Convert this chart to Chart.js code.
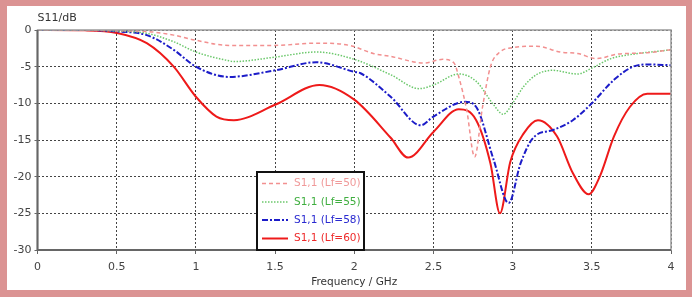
<!DOCTYPE html>
<html>
<head>
<meta charset="utf-8">
<script src="https://cdn.jsdelivr.net/npm/chart.js@4.4.1/dist/chart.umd.min.js"></script>
<style>
html,body{margin:0;padding:0;background:#fff;}
#wrap{position:relative;width:692px;height:297px;}
</style>
</head>
<body>
<div id="wrap"><canvas id="c" width="692" height="297"></canvas></div>
<script>
// Frequency (GHz) / S11 (dB)
const freqLf50 = [0,0.3,0.5,0.69,0.86,1.0,1.21,1.5,1.76,1.97,2.12,2.23,2.44,2.56,2.63,2.66,2.71,2.76,2.81,2.86,2.92,3.0,3.15,3.3,3.41,3.53,3.66,3.85,4.0];
const s11Lf50  = [0,0,-0.1,-0.2,-0.7,-1.4,-2.1,-2.1,-1.8,-2.1,-3.2,-3.6,-4.5,-4.0,-4.5,-6.4,-10.9,-17.3,-10.5,-5.0,-3.0,-2.4,-2.2,-3.0,-3.2,-3.9,-3.3,-3.1,-2.7];

const freqLf55 = [0,0.3,0.5,0.69,0.86,1.0,1.21,1.24,1.5,1.76,2.0,2.23,2.41,2.5,2.66,2.77,2.88,2.94,3.0,3.07,3.15,3.25,3.41,3.5,3.62,3.76,4.0];
const s11Lf55  = [0,0,-0.15,-0.45,-1.6,-3.0,-4.2,-4.3,-3.7,-3.0,-4.0,-6.1,-8.0,-7.5,-6.0,-7.0,-10.2,-11.5,-10.0,-7.7,-6.1,-5.5,-6.0,-5.2,-3.9,-3.3,-2.7];

const freqLf58 = [0,0.3,0.5,0.69,0.86,1.0,1.21,1.5,1.76,2.0,2.04,2.23,2.42,2.5,2.7,2.77,2.88,2.975,3.05,3.13,3.26,3.38,3.5,3.64,3.76,3.85,4.0];
const s11Lf58  = [0,0,-0.2,-0.7,-2.7,-5.0,-6.4,-5.5,-4.4,-5.7,-5.9,-9.1,-13.0,-11.8,-9.8,-10.5,-17.7,-23.6,-18.2,-14.7,-13.6,-12.3,-10.0,-6.8,-5.0,-4.7,-4.8];

const freqLf60 = [0,0.3,0.5,0.69,0.86,1.0,1.13,1.24,1.5,1.78,2.0,2.23,2.34,2.5,2.66,2.77,2.86,2.92,2.985,3.07,3.16,3.28,3.38,3.48,3.55,3.64,3.74,3.85,4.0];
const s11Lf60  = [0,-0.05,-0.4,-1.8,-5.0,-9.1,-11.8,-12.3,-10.2,-7.5,-9.5,-14.7,-17.4,-13.9,-10.8,-12.3,-18.2,-25.0,-18.0,-14.1,-12.3,-14.5,-19.5,-22.4,-20.0,-14.5,-10.5,-8.7,-8.7];

const seriesLabels = ['S1,1 (Lf=50)','S1,1 (Lf=55)','S1,1 (Lf=58)','S1,1 (Lf=60)'];
const xTicks = [0,0.5,1,1.5,2,2.5,3,3.5,4];
const yTicks = [0,-5,-10,-15,-20,-25,-30];

function pts(xs, ys){ return xs.map((x,i)=>({x:x,y:ys[i]})); }

const FONT = '"DejaVu Sans", Tahoma, sans-serif';

const framePlugin = {
  id:'frame',
  beforeDraw(chart){
    const ctx = chart.ctx;
    ctx.save();
    ctx.fillStyle = '#db9393';
    ctx.fillRect(0,0,chart.width,chart.height);
    ctx.fillStyle = '#ffffff';
    ctx.fillRect(7,6,679,284);
    ctx.restore();
  },
  afterDraw(chart){
    const ctx = chart.ctx;
    const a = chart.chartArea;
    ctx.save();
    // plot border
    ctx.strokeStyle = '#9a9a9a';
    ctx.lineWidth = 1.5;
    ctx.strokeRect(a.left, a.top, a.right-a.left, a.bottom-a.top);
    ctx.strokeStyle = '#666';
    ctx.lineWidth = 2;
    ctx.beginPath();
    ctx.moveTo(a.left, a.top); ctx.lineTo(a.left, a.bottom); ctx.lineTo(a.right, a.bottom);
    ctx.stroke();
    // y axis title
    ctx.fillStyle = '#333';
    ctx.font = '11px ' + FONT;
    ctx.textBaseline = 'alphabetic';
    ctx.textAlign = 'left';
    ctx.fillText('S11/dB', a.left, 21);
    // legend
    const lx = 257, ly = 172, lw = 107, lh = 78;
    ctx.fillStyle = '#fff';
    ctx.fillRect(lx, ly, lw, lh);
    ctx.strokeStyle = '#111';
    ctx.lineWidth = 2;
    ctx.strokeRect(lx, ly, lw, lh);
    const textColors = ['#f09a9a','#3fae3f','#2a2ad0','#ee2a2a'];
    const rows = [183.5, 202, 220, 238.5];
    chart.data.datasets.forEach((ds,i)=>{
      const y = rows[i];
      ctx.save();
      ctx.strokeStyle = ds.borderColor;
      ctx.lineWidth = ds.borderWidth;
      ctx.setLineDash(ds.borderDash || []);
      ctx.beginPath(); ctx.moveTo(262, y); ctx.lineTo(288, y); ctx.stroke();
      ctx.restore();
      ctx.fillStyle = textColors[i];
      ctx.font = '10.5px ' + FONT;
      ctx.textBaseline = 'middle';
      ctx.textAlign = 'left';
      ctx.fillText(ds.label, 294, y);
    });
    ctx.restore();
  }
};

new Chart(document.getElementById('c'), {
  type:'line',
  data:{
    datasets:[
      {label:seriesLabels[0], data:pts(freqLf50,s11Lf50), borderColor:'#f29090', borderWidth:1.5, borderDash:[4,3]},
      {label:seriesLabels[1], data:pts(freqLf55,s11Lf55), borderColor:'#6cc86c', borderWidth:1.5, borderDash:[1.5,1.5]},
      {label:seriesLabels[2], data:pts(freqLf58,s11Lf58), borderColor:'#1c1cc8', borderWidth:2, borderDash:[6,2,2,2]},
      {label:seriesLabels[3], data:pts(freqLf60,s11Lf60), borderColor:'#ee1a1a', borderWidth:2}
    ].map(d=>Object.assign(d,{pointRadius:0, fill:false, cubicInterpolationMode:'monotone', tension:0.4}))
  },
  options:{
    responsive:false,
    animation:false,
    devicePixelRatio:1,
    layout:{padding:{left:0, top:30, right:21, bottom:8}},
    plugins:{legend:{display:false}, tooltip:{enabled:false}, title:{display:false}},
    scales:{
      x:{
        type:'linear', min:0, max:4,
        afterFit(s){ s.height = 39; },
        afterBuildTicks(s){ s.ticks = xTicks.map(v=>({value:v})); },
        grid:{color:'#444', lineWidth:1, drawTicks:true, tickLength:4, tickColor:'#666'},
        border:{display:false, dash:[2,2]},
        ticks:{color:'#444', font:{family:FONT, size:11}, padding:7, maxRotation:0,
               callback:(v)=>String(v)},
        title:{display:true, text:'Frequency / GHz', color:'#333', font:{family:FONT, size:10.5}, padding:{top:0,bottom:0}}
      },
      y:{
        type:'linear', min:-30, max:0,
        afterFit(s){ s.width = 37.5; },
        afterBuildTicks(s){ s.ticks = yTicks.map(v=>({value:v})); },
        grid:{color:'#444', lineWidth:1, drawTicks:true, tickLength:3, tickColor:'#666'},
        border:{display:false, dash:[2,2]},
        ticks:{color:'#444', font:{family:FONT, size:11}, padding:3, callback:(v)=>String(v)}
      }
    }
  },
  plugins:[framePlugin]
});
</script>
</body>
</html>
